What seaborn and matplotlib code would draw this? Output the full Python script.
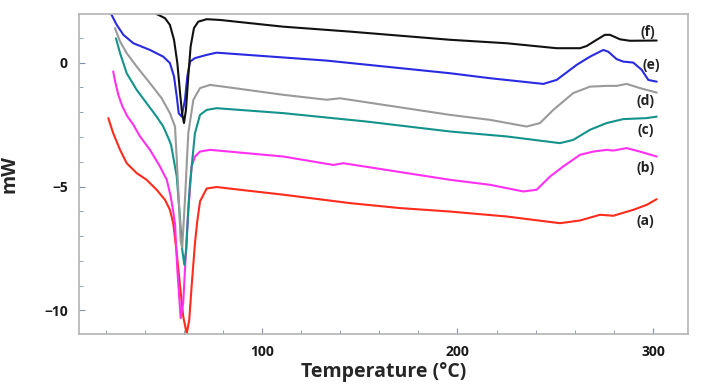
import pandas as pd
import seaborn as sns
import matplotlib.pyplot as plt
import matplotlib.ticker as ticker

# DSC curves (temperature in C, heat flow in mW)
temp_a = [21.4, 23.9, 27.4, 30.8, 35.9, 41.0, 46.1, 50.4, 52.9, 54.6, 56.4, 58.1, 59.7, 61.5, 62.8, 64.0,
          65.7, 66.9, 68.3, 71.7, 76.8, 85.3, 110.9, 145.0, 170.6, 196.2, 225.2, 252.4, 262.7, 272.9, 279.7,
          289.9, 296.8, 301.9]
mw_a = [-2.24, -2.85, -3.52, -4.06, -4.46, -4.73, -5.13, -5.54, -5.94, -6.48, -7.69, -9.03, -10.24, -10.94,
        -10.38, -9.03, -7.3, -6.4, -5.6, -5.08, -5.02, -5.10, -5.33, -5.67, -5.87, -6.01, -6.21, -6.48, -6.37,
        -6.14, -6.18, -5.94, -5.74, -5.51]

temp_b = [23.9, 25.0, 26.5, 28.5, 31.0, 34.2, 37.6, 42.7, 47.8, 51.3, 53.3, 54.6, 55.5, 56.7, 58.4, 59.7, 60.6,
          61.5, 62.3, 64.0, 65.7, 68.3, 73.4, 110.9, 136.5, 141.6, 196.2, 216.6, 233.7, 240.5, 247.3, 254.1,
          262.7, 269.5, 276.3, 279.7, 286.5, 293.3, 301.9]
mw_b = [-0.36, -0.8, -1.3, -1.75, -2.15, -2.51, -2.98, -3.52, -4.19, -4.73, -5.40, -6.0, -6.5, -8.36, -10.31,
        -9.70, -8.36, -7.02, -6.0, -4.19, -3.79, -3.59, -3.52, -3.79, -4.13, -4.06, -4.73, -4.93, -5.20, -5.13,
        -4.60, -4.19, -3.72, -3.59, -3.52, -3.55, -3.45, -3.59, -3.79]

temp_c = [25.3, 27.4, 30.8, 35.9, 41.0, 46.1, 49.5, 52.4, 53.5, 56.4, 58.1, 59.2, 60.3, 61.3, 62.3, 63.2, 65.7,
          68.3, 71.7, 76.8, 110.9, 153.6, 196.2, 225.2, 252.4, 259.2, 267.8, 276.3, 284.8, 296.8, 301.9]
mw_c = [0.98, 0.38, -0.43, -1.10, -1.64, -2.18, -2.58, -3.10, -3.32, -4.60, -6.34, -7.55, -8.16, -7.5, -5.9,
        -4.86, -2.85, -2.11, -1.91, -1.84, -2.04, -2.38, -2.78, -2.98, -3.25, -3.12, -2.71, -2.44, -2.28, -2.24,
        -2.18]

temp_d = [24.8, 27.4, 30.8, 35.9, 42.7, 48.7, 52.9, 55.5, 56.2, 57.5, 58.4, 59.2, 60.6, 62.3, 64.9, 68.3, 73.4,
          80.2, 110.9, 133.1, 139.9, 196.2, 216.6, 235.4, 242.2, 249.0, 259.2, 267.8, 276.3, 281.4, 286.5, 293.3,
          301.9]
mw_d = [1.39, 0.85, 0.38, -0.16, -0.83, -1.44, -2.04, -2.58, -3.6, -5.6, -7.2, -7.45, -5.54, -2.85, -1.50,
        -1.03, -0.90, -0.97, -1.30, -1.50, -1.44, -2.11, -2.31, -2.58, -2.44, -1.91, -1.23, -0.97, -0.94, -0.94,
        -0.86, -1.03, -1.21]

temp_e = [21.5, 23.1, 25.7, 29.1, 34.2, 42.7, 49.5, 52.9, 55.0, 56.4, 57.4, 58.9, 60.6, 61.8, 63.2, 65.7, 71.7,
          76.8, 133.1, 196.2, 216.6, 243.9, 250.7, 261.0, 267.8, 274.6, 277.1, 281.4, 284.8, 289.9, 294.2, 297.6,
          301.9]
mw_e = [2.2, 1.92, 1.52, 1.12, 0.78, 0.51, 0.24, -0.02, -0.56, -1.37, -2.04, -2.18, -1.50, -0.56, 0.04, 0.18,
        0.31, 0.40, 0.08, -0.43, -0.63, -0.86, -0.70, -0.09, 0.24, 0.51, 0.44, 0.14, 0.04, 0.0, -0.29, -0.70,
        -0.77]

temp_f = [42.0, 46.1, 50.4, 52.9, 55.0, 56.7, 58.1, 59.1, 60.1, 61.1, 62.3, 63.5, 65.2, 67.4, 71.7, 78.5, 110.7,
          145.0, 196.2, 225.2, 250.7, 262.7, 266.1, 271.2, 275.4, 278.0, 283.1, 288.2, 301.9]
mw_f = [2.15, 1.96, 1.79, 1.52, 0.92, -0.02, -1.23, -2.04, -2.44, -1.91, -0.56, 0.65, 1.39, 1.65, 1.75, 1.72,
        1.45, 1.25, 0.92, 0.78, 0.58, 0.58, 0.67, 0.92, 1.12, 1.12, 0.94, 0.88, 0.89]

sample_names = ["(a)", "(b)", "(c)", "(d)", "(e)", "(f)"]
label_temp = [296.3, 296.3, 296.3, 296.3, 299.3, 297.1]
label_mw = [-6.41, -4.26, -2.74, -1.57, -0.09, 1.25]

colors = ["#ff2b1c", "#ff30f0", "#14938c", "#9a9a9a", "#2a2ae0", "#111111"]

curves = [(temp_a, mw_a), (temp_b, mw_b), (temp_c, mw_c), (temp_d, mw_d), (temp_e, mw_e), (temp_f, mw_f)]
frames = []
for name, (t, m) in zip(sample_names, curves):
	frames.append(pd.DataFrame({"temp": t, "mw": m, "sample": name}))
df = pd.concat(frames, ignore_index=True)

sns.set_style("white")
plt.rcParams['font.family'] = ['Open Sans', 'DejaVu Sans']

fig = plt.figure(figsize=(7.01, 3.89), dpi=100)
ax = fig.add_axes([0.1127, 0.1414, 0.869, 0.8226])

sns.lineplot(data=df, x="temp", y="mw", hue="sample", palette=colors, estimator=None,
	sort=False, linewidth=1.5, legend=False, ax=ax)
for l in ax.lines:
	l.set_solid_joinstyle("round")

for name, t, m in zip(sample_names, label_temp, label_mw):
	ax.text(t, m, name, ha="center", va="center", fontsize=10, fontweight="bold", color="#222222")

ax.set_xlim(6.4, 318)
ax.set_ylim(-10.95, 1.96)

ax.xaxis.set_major_locator(ticker.FixedLocator([100, 200, 300]))
ax.xaxis.set_minor_locator(ticker.MultipleLocator(20))
ax.yaxis.set_major_locator(ticker.MultipleLocator(5))
ax.yaxis.set_minor_locator(ticker.MultipleLocator(1))
ax.yaxis.set_major_formatter(ticker.FuncFormatter(lambda v, p: "{:d}".format(int(v)).replace("-", "\u2212")))

ax.tick_params(which="both", direction="in", color="#8090b0", bottom=True, left=True)
ax.tick_params(which="major", length=4, width=0.8, labelsize=10, labelcolor="#1a1a1a", pad=8)
ax.tick_params(which="minor", length=3, width=0.6)
for label in ax.get_xticklabels() + ax.get_yticklabels():
	label.set_fontweight("bold")

for s in ax.spines.values():
	s.set_color("#b4b4b4")
	s.set_linewidth(1.2)

ax.set_xlabel("Temperature (\u00b0C)", fontsize=14, fontweight="bold", labelpad=2)
ax.set_ylabel("mW", fontsize=14, fontweight="bold", labelpad=18)

plt.savefig("out.png", dpi=100)
